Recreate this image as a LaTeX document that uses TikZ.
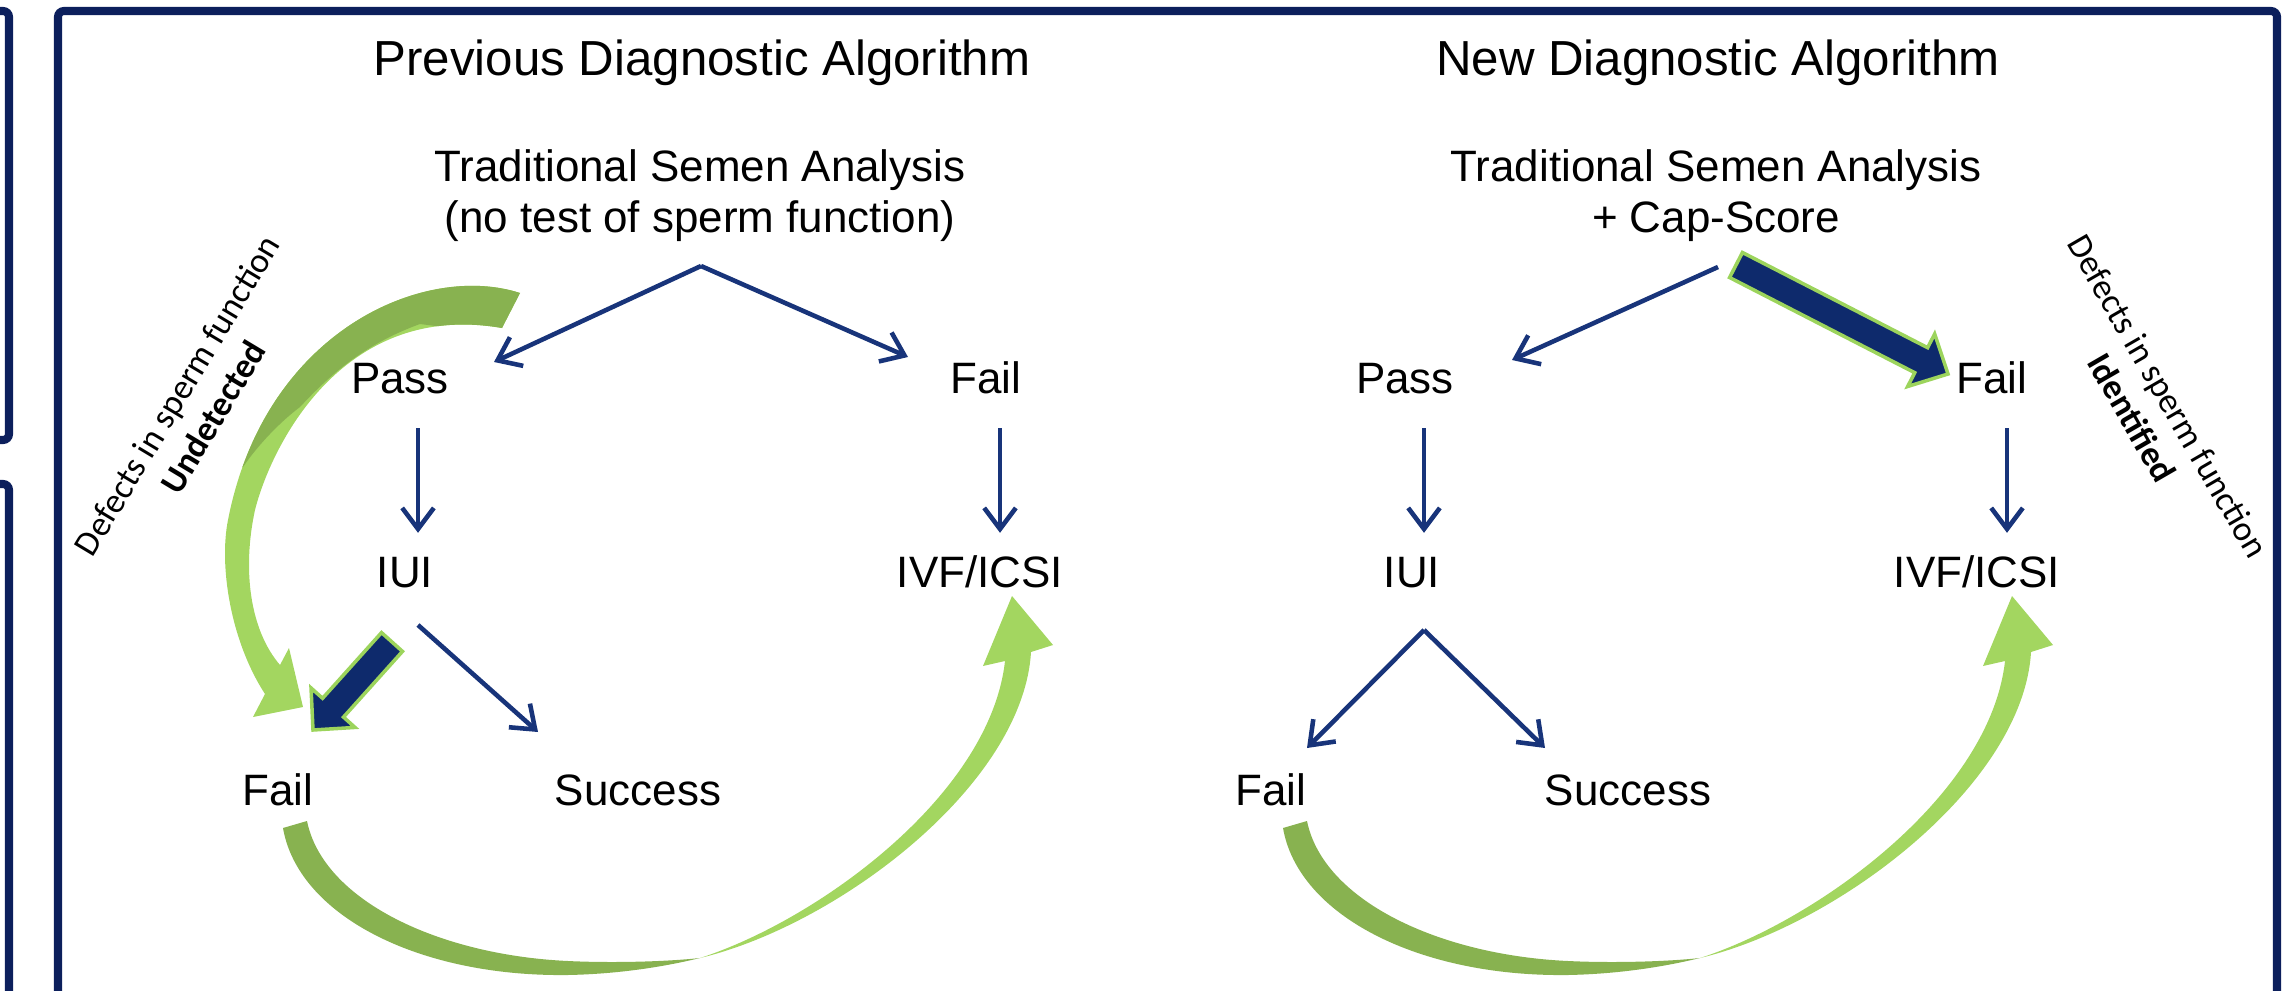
\documentclass[tikz,border=0pt]{standalone}
\usepackage{fontspec}
\setmainfont{Liberation Sans}
\newfontfamily\calibri{Carlito}
\usetikzlibrary{arrows.meta,positioning,calc}

\definecolor{framenavy}{RGB}{12,31,92}
\definecolor{arrnavy}{RGB}{24,52,122}
\definecolor{fatnavy}{RGB}{14,42,108}
\definecolor{rimgreen}{RGB}{156,212,92}
\definecolor{lightgreen}{RGB}{163,214,96}
\definecolor{darkgreen}{RGB}{136,178,80}

\tikzset{
  back arrow/.pic={
    \fill[lightgreen] (422,-153) .. controls (560,-120) and (745,20) .. (753,153)
      -- (775,160) -- (734,209) -- (705,139) -- (727,144)
      .. controls (712,10) and (540,-115) .. (422,-153) -- cycle;
    \fill[darkgreen] (5,-23) .. controls (20,-110) and (140,-172) .. (290,-170)
      .. controls (340,-169) and (385,-162) .. (422,-153)
      .. controls (385,-157) and (330,-158) .. (290,-156)
      .. controls (160,-150) and (45,-95) .. (29,-16) -- cycle;
  }
}

% thick navy arrow with green rim, from #1 to #2
\newcommand\fatarrow[2]{%
  \draw[fat] let \p1=($#2-#1$), \n1={atan2(\y1,\x1)}, \n2={veclen(\x1,\y1)-8.5pt} in
    ($#1+(\n1+90:4pt)$) -- ($#1+(\n1:\n2)+(\n1+90:4pt)$)
    -- ($#1+(\n1:\n2)+(\n1+90:8.4pt)$) -- #2
    -- ($#1+(\n1:\n2)+(\n1-90:8.4pt)$) -- ($#1+(\n1:\n2)+(\n1-90:4pt)$)
    -- ($#1+(\n1-90:4pt)$) -- cycle;}

\begin{document}
\begin{tikzpicture}[
  x=0.01cm, y=0.01cm,
  title/.style={font=\fontsize{14}{17}\selectfont, anchor=base, inner sep=0pt},
  head/.style={font=\fontsize{12.5}{14.5}\selectfont, align=center, anchor=base, inner sep=0pt},
  lbl/.style={font=\fontsize{12.5}{15}\selectfont, anchor=base, inner sep=0pt, text height=8.95pt, text depth=0pt},
  side/.style={font=\calibri\fontsize{10}{12}\selectfont, align=center, inner sep=0pt},
  arr/.style={draw=arrnavy, line width=1.3pt, -{Straight Barb[length=6pt,width=9pt]}},
  frame/.style={draw=framenavy, line width=2.3pt, rounded corners=0.6mm},
  fat/.style={fill=fatnavy, draw=rimgreen, line width=1pt}
]
\useasboundingbox (0,0) rectangle (2282,990);
\draw[frame] (-200,550) rectangle (9,979);
\draw[frame] (-200,-60) rectangle (9,506);
\draw[frame] (58,-60) rectangle (2277,979);

% previous algorithm
\node[title] (ttll) at (702,914) {Previous Diagnostic Algorithm};
\node[head] (tsal) at (700,758) {Traditional Semen Analysis\\(no test of sperm function)};
\node[lbl] (pasl) at (400,597) {Pass};
\node[lbl] (failtl) at (986,597) {Fail};
\node[lbl] (iuil) at (405,403) {IUI};
\node[lbl] (ivfl) at (980,403) {IVF/ICSI};
\node[lbl] (faill) at (278,185) {Fail};
\node[lbl] (succl) at (638,185) {Success};
\node[side, rotate=59] (defl) at (195,584) {Defects in sperm function\\\textbf{Undetected}};

% new algorithm
\node[title] (ttlr) at (1718,914) {New Diagnostic Algorithm};
\node[head] (tsar) at (1716,758) {Traditional Semen Analysis\\+ Cap-Score};
\node[lbl] (pasr) at (1405,597) {Pass};
\node[lbl] (failtr) at (1992,597) {Fail};
\node[lbl] (iuir) at (1412,403) {IUI};
\node[lbl] (ivfr) at (1977,403) {IVF/ICSI};
\node[lbl] (failr) at (1271,185) {Fail};
\node[lbl] (succr) at (1628,185) {Success};
\node[side, rotate=-60] (defr) at (2150,583) {Defects in sperm function\\\textbf{Identified}};

% green curved arrows
\fill[lightgreen] (520,697) .. controls (425,728) and (265,660) .. (228,470)
  .. controls (219,425) and (230,350) .. (265,296)
  -- (253,273) -- (303,283) -- (289,342) -- (280,325)
  .. controls (250,360) and (242,420) .. (255,480)
  .. controls (270,540) and (340,690) .. (502,662) -- cycle;
\begin{scope}
  \clip (520,697) .. controls (425,728) and (265,660) .. (228,470)
    .. controls (219,425) and (230,350) .. (265,296)
    -- (280,325) .. controls (250,360) and (242,420) .. (255,480)
    .. controls (270,540) and (340,690) .. (502,662) -- cycle;
  \fill[darkgreen] (200,515) -- (243,523) .. controls (258,545) and (280,568) .. (300,583)
    .. controls (328,613) and (362,645) .. (420,666)
    -- (505,655) -- (560,650) -- (560,760) -- (150,760) -- cycle;
\end{scope}
\pic at (faill.base) {back arrow};
\pic at ([xshift=0.7mm]failr.base) {back arrow};

% branch points
\coordinate (spl) at (701,724);
\coordinate (spr) at (1718,723);
\coordinate (spb) at ([shift={(12,-43)}]iuir.base);

\draw[arr] (spl) -- ([shift={(94,31)}]pasl.base);
\draw[arr] (spl) -- ([shift={(-78,36)}]failtl.base);
\draw[arr, shorten <=3.5mm, shorten >=2.2mm] ([xshift=1.8mm]pasl.base) -- ([xshift=1.8mm]pasl.base |- iuil.north);
\draw[arr, shorten <=3.5mm, shorten >=2.2mm] ([xshift=1.4mm]failtl.base) -- ([xshift=1.4mm]failtl.base |- ivfl.north);
\draw[arr] ([shift={(13,-38)}]iuil.base) -- ([shift={(-100,73)}]succl.base);
\coordinate (fla) at ([shift={(-13,-55)}]iuil.base);
\coordinate (flb) at ([shift={(35,75)}]faill.base);
\fatarrow{(fla)}{(flb)}

\draw[arr] (spr) -- ([shift={(107,33)}]pasr.base);
\coordinate (fra) at ([shift={(18,2)}]spr);
\coordinate (frb) at ([shift={(-44,19)}]failtr.base);
\fatarrow{(fra)}{(frb)}
\draw[arr, shorten <=3.5mm, shorten >=2.2mm] ([xshift=1.9mm]pasr.base) -- ([xshift=1.9mm]pasr.base |- iuir.north);
\draw[arr, shorten <=3.5mm, shorten >=2.2mm] ([xshift=1.5mm]failtr.base) -- ([xshift=1.5mm]failtr.base |- ivfr.north);
\draw[arr] (spb) -- ([shift={(36,57)}]failr.base);
\draw[arr] (spb) -- ([shift={(-83,57)}]succr.base);
\end{tikzpicture}
\end{document}
